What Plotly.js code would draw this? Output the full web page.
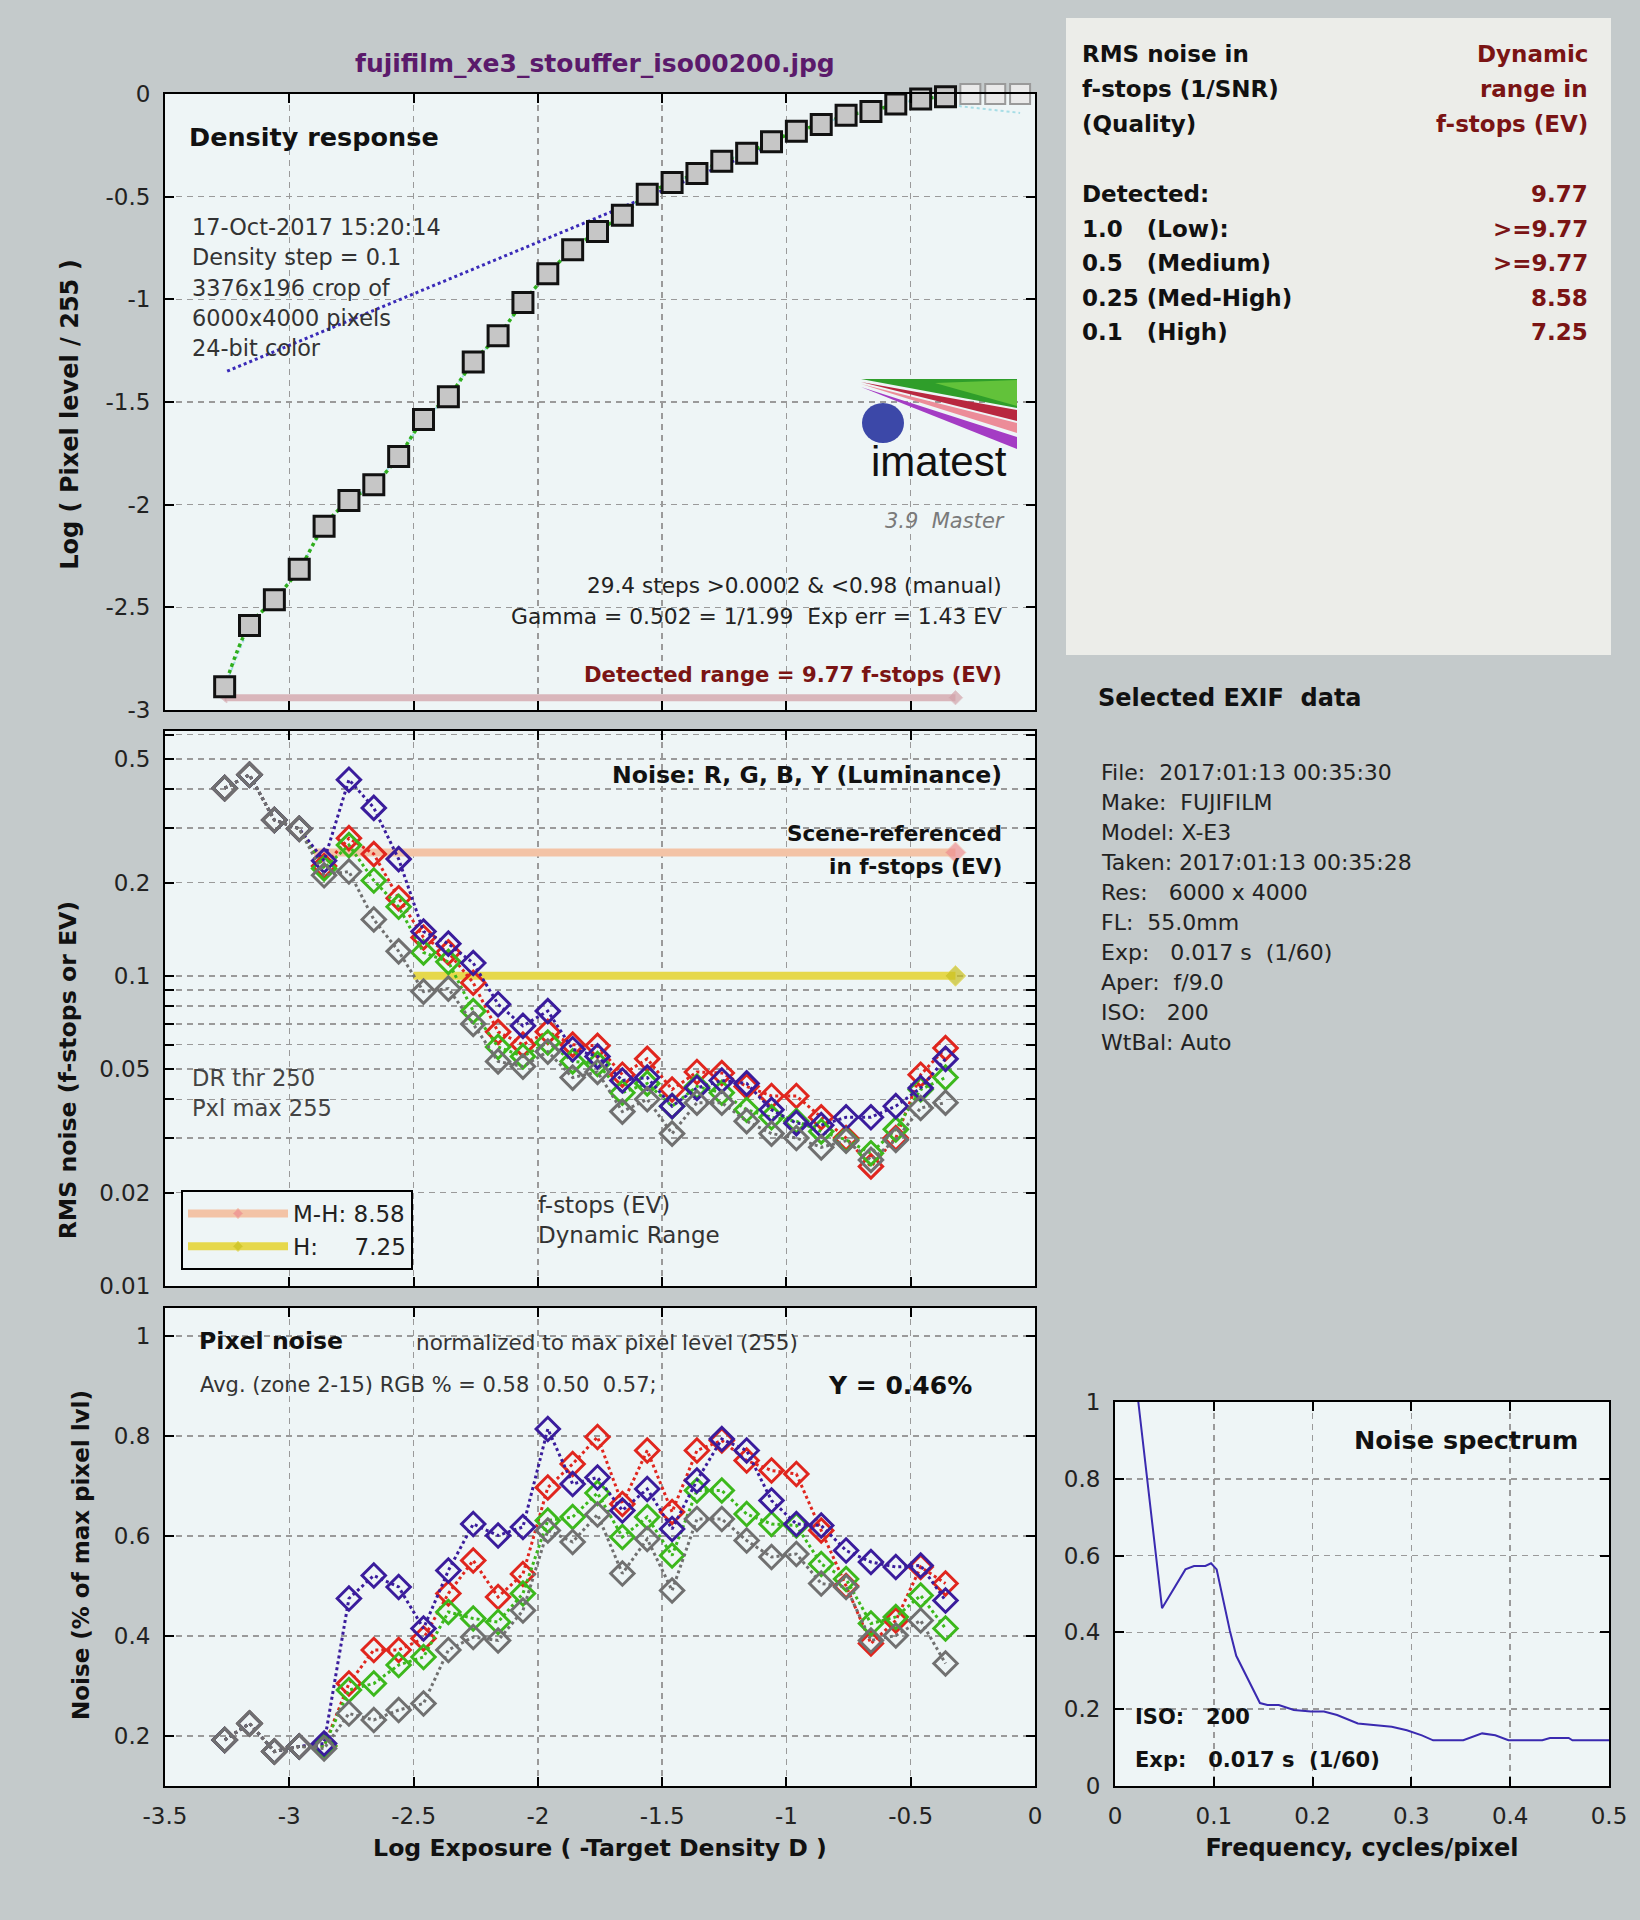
<!DOCTYPE html>
<html><head><meta charset="utf-8">
<script src="https://cdn.plot.ly/plotly-3.0.1.min.js"></script>
<style>html,body{margin:0;padding:0;background:#c4cacb;}#chart{width:1640px;height:1920px;}</style>
</head><body><div id="chart"></div>
<script>
// ---------------- DATA ----------------
// Density response (log exposure vs log pixel level)
const stepX = [-3.26,-3.16,-3.06,-2.96,-2.86,-2.76,-2.66,-2.56,-2.46,-2.36,-2.26,-2.16,-2.06,-1.96,-1.86,-1.76,-1.66,-1.56,-1.46,-1.36,-1.26,-1.16,-1.06,-0.96,-0.86,-0.76,-0.66,-0.56,-0.46,-0.36];
const densityY = [-2.887,-2.588,-2.463,-2.314,-2.105,-1.980,-1.903,-1.765,-1.585,-1.474,-1.305,-1.177,-1.016,-0.875,-0.758,-0.670,-0.590,-0.488,-0.431,-0.387,-0.328,-0.288,-0.232,-0.181,-0.148,-0.104,-0.085,-0.049,-0.024,-0.013];
const clippedX = [-0.26,-0.16,-0.06];
const clippedY = [0,0,0];
const fitTailX = [-0.30,-0.16,-0.06];
const fitTailY = [-0.060,-0.078,-0.092];
const gammaLineX = [-3.25,-1.06];
const gammaLineY = [-1.35,-0.25];
const detectedRangeX = [-3.26,-0.32];
const detectedRangeY = [-2.94,-2.94];

// RMS noise in f-stops (log axis)
const rmsR = [0.403,0.445,0.318,0.298,0.226,0.278,0.247,0.178,0.133,0.119,0.095,0.066,0.060,0.066,0.060,0.0595,0.048,0.054,0.043,0.049,0.0486,0.044,0.041,0.041,0.035,0.030,0.0243,0.030,0.048,0.0585];
const rmsG = [0.403,0.445,0.318,0.298,0.222,0.264,0.203,0.167,0.119,0.111,0.077,0.059,0.055,0.061,0.053,0.052,0.042,0.045,0.038,0.044,0.042,0.037,0.035,0.034,0.0315,0.0296,0.0268,0.032,0.043,0.047];
const rmsB = [0.403,0.445,0.318,0.298,0.235,0.429,0.348,0.238,0.139,0.127,0.110,0.081,0.069,0.077,0.058,0.055,0.046,0.047,0.038,0.0435,0.046,0.045,0.037,0.0335,0.033,0.035,0.035,0.038,0.0435,0.054];
const rmsY = [0.403,0.445,0.318,0.298,0.211,0.217,0.152,0.120,0.089,0.091,0.070,0.053,0.051,0.057,0.047,0.049,0.0365,0.040,0.031,0.039,0.039,0.034,0.031,0.030,0.028,0.0294,0.0255,0.0296,0.0375,0.039];
const mhBarX = [-2.90,-0.32];
const mhBarY = [0.25,0.25];
const hBarX = [-2.50,-0.32];
const hBarY = [0.1,0.1];

// Pixel noise, % of max pixel level
const pixR = [0.192,0.225,0.169,0.179,0.180,0.305,0.372,0.372,0.395,0.485,0.551,0.478,0.524,0.697,0.744,0.798,0.664,0.771,0.648,0.771,0.791,0.751,0.731,0.724,0.611,0.500,0.385,0.431,0.538,0.505];
const pixG = [0.192,0.225,0.169,0.179,0.180,0.292,0.305,0.342,0.358,0.448,0.435,0.428,0.485,0.631,0.638,0.686,0.598,0.638,0.561,0.691,0.691,0.644,0.624,0.621,0.544,0.514,0.425,0.438,0.481,0.415];
const pixB = [0.192,0.225,0.169,0.179,0.185,0.475,0.521,0.498,0.415,0.531,0.624,0.601,0.618,0.814,0.704,0.717,0.651,0.694,0.614,0.711,0.794,0.771,0.671,0.624,0.621,0.571,0.548,0.538,0.541,0.471];
const pixY = [0.192,0.225,0.169,0.179,0.175,0.245,0.232,0.252,0.265,0.372,0.398,0.391,0.451,0.611,0.588,0.643,0.525,0.594,0.491,0.634,0.634,0.591,0.558,0.564,0.505,0.498,0.391,0.401,0.431,0.345];

// Noise spectrum
const specFreq = [0.0236,0.0476,0.0713,0.080,0.0915,0.0972,0.1029,0.1162,0.1227,0.1467,0.1543,0.1658,0.181,0.1982,0.2115,0.2248,0.2458,0.2649,0.2801,0.2954,0.3106,0.322,0.3525,0.3716,0.3849,0.3982,0.4325,0.4402,0.4592,0.463,0.5];
const specVal = [1.0,0.463,0.564,0.573,0.573,0.580,0.564,0.405,0.339,0.216,0.211,0.211,0.198,0.194,0.194,0.185,0.163,0.159,0.154,0.145,0.132,0.119,0.119,0.137,0.132,0.119,0.119,0.125,0.125,0.119,0.119];

// Tick labels
const densTickVals = [0,-0.5,-1,-1.5,-2,-2.5,-3];
const densTickText = ['0','-0.5','-1','-1.5','-2','-2.5','-3'];
const rmsTickVals = [0.01,0.02,0.03,0.04,0.05,0.06,0.07,0.08,0.09,0.1,0.2,0.3,0.4,0.5,0.6];
const rmsTickText = ['0.01','0.02','','','0.05','','','','','0.1','0.2','','','0.5',''];
const pixTickVals = [0.2,0.4,0.6,0.8,1];
const pixTickText = ['0.2','0.4','0.6','0.8','1'];
const expTickVals = [-3.5,-3,-2.5,-2,-1.5,-1,-0.5,0];
const expTickText = ['-3.5','-3','-2.5','-2','-1.5','-1','-0.5','0'];
const freqTickVals = [0,0.1,0.2,0.3,0.4,0.5];
const freqTickText = ['0','0.1','0.2','0.3','0.4','0.5'];
const specTickVals = [0,0.2,0.4,0.6,0.8,1];
const specTickText = ['0','0.2','0.4','0.6','0.8','1'];

// Text blocks
const infoLeft = ['RMS noise in','f-stops (1/SNR)','(Quality)','Detected:','1.0   (Low):','0.5   (Medium)','0.25 (Med-High)','0.1   (High)'];
const infoRight = ['Dynamic','range in','f-stops (EV)','9.77','&gt;=9.77','&gt;=9.77','8.58','7.25'];
const exifLines = ['File:  2017:01:13 00:35:30','Make:  FUJIFILM','Model: X-E3','Taken: 2017:01:13 00:35:28','Res:   6000 x 4000','FL:  55.0mm','Exp:   0.017 s  (1/60)','Aper:  f/9.0','ISO:   200','WtBal: Auto'];
const densInfo = ['17-Oct-2017 15:20:14','Density step = 0.1','3376x196 crop of','6000x4000 pixels','24-bit color'];

// ---------------- LAYOUT HELPERS ----------------
const W = 1640, H = 1920;
const px = v => v / W;
const py = v => 1 - v / H;
const FONT = 'DejaVu Sans';
const NB = '\u00a0';
const ZW = '\u200b';
const cR = '#e0261e', cG = '#3cb81c', cB = '#3a1c9c', cY = '#707070';

const axisCommon = {
  showline: true, linecolor: '#000', linewidth: 2, mirror: 'ticks',
  ticks: 'inside', ticklen: 9, tickwidth: 2, tickcolor: '#000',
  showgrid: true, gridcolor: '#9a9a9a', griddash: '6px,5px', gridwidth: 1.5,
  zeroline: false, tickfont: {family: FONT, size: 23, color: '#222'},
  tickmode: 'array', ticklabelstandoff: 8
};
const mainXDomain = [px(165), px(1035)];
function ax(extra) { return Object.assign({}, axisCommon, extra); }
function ttl(text, standoff, size) { return {text: text, font: {family: FONT, size: size || 23, weight: 'bold', color: '#111'}, standoff: standoff}; }
// trailing padding shifts the rotated title along the axis (as in the reference)
function pad(text, n) { return n > 0 ? text + NB.repeat(n) + ZW : text; }

function noiseTrace(y, color, xa, ya) {
  return {x: stepX, y: y, xaxis: xa, yaxis: ya, mode: 'lines+markers', showlegend: false,
    line: {color: color, dash: 'dot', width: 3},
    marker: {symbol: 'diamond-open', size: 18, color: color, line: {width: 3, color: color}},
    cliponaxis: false, hoverinfo: 'skip'};
}

const traces = [
  // top panel
  {x: gammaLineX, y: gammaLineY, xaxis: 'x', yaxis: 'y', mode: 'lines', showlegend: false,
   line: {color: '#3a2ab8', dash: 'dot', width: 3}},
  {x: stepX.concat(fitTailX), y: densityY.concat(fitTailY), xaxis: 'x', yaxis: 'y', mode: 'lines', showlegend: false,
   line: {color: '#a6dde6', dash: 'dot', width: 2}},
  {x: stepX, y: densityY, xaxis: 'x', yaxis: 'y', mode: 'lines', showlegend: false,
   line: {color: '#2fae1c', dash: 'dot', width: 3.5, shape: 'spline'}},
  {x: detectedRangeX, y: detectedRangeY, xaxis: 'x', yaxis: 'y', mode: 'lines+markers', showlegend: false,
   line: {color: '#d9b6bb', width: 7},
   marker: {symbol: ['triangle-left', 'diamond'], size: [9, 11], color: '#d3a3aa'}},
  {x: clippedX, y: clippedY, xaxis: 'x', yaxis: 'y', mode: 'markers', showlegend: false, cliponaxis: false,
   marker: {symbol: 'square', size: 20, color: '#e9e9e9', line: {width: 2, color: '#9a9a9a'}}},
  {x: stepX, y: densityY, xaxis: 'x', yaxis: 'y', mode: 'markers', showlegend: false, cliponaxis: false,
   marker: {symbol: 'square', size: 20, color: '#c6c6c6', line: {width: 3, color: '#111'}}},
  // middle panel bars (legend)
  {x: mhBarX, y: mhBarY, xaxis: 'x2', yaxis: 'y2', mode: 'lines+markers', name: 'M-H: 8.58',
   line: {color: '#f3c3a6', width: 8}, marker: {symbol: 'diamond', size: [0, 16], color: '#ee8e90'}},
  {x: hBarX, y: hBarY, xaxis: 'x2', yaxis: 'y2', mode: 'lines+markers', name: 'H:' + NB + NB + NB + NB + NB + '7.25',
   line: {color: '#e6d84c', width: 8}, marker: {symbol: 'diamond', size: [0, 16], color: '#c9c020'}},
  noiseTrace(rmsR, cR, 'x2', 'y2'),
  noiseTrace(rmsG, cG, 'x2', 'y2'),
  noiseTrace(rmsB, cB, 'x2', 'y2'),
  noiseTrace(rmsY, cY, 'x2', 'y2'),
  // bottom panel
  noiseTrace(pixR, cR, 'x3', 'y3'),
  noiseTrace(pixG, cG, 'x3', 'y3'),
  noiseTrace(pixB, cB, 'x3', 'y3'),
  noiseTrace(pixY, cY, 'x3', 'y3'),
  // spectrum
  {x: specFreq, y: specVal, xaxis: 'x4', yaxis: 'y4', mode: 'lines', showlegend: false,
   line: {color: '#3a2ab0', width: 2}}
];

const annotations = [];
function ann(text, x, y, xanchor, opts) {
  const o = Object.assign({size: 21, color: '#222', weight: 'normal', style: 'normal', family: FONT}, opts || {});
  annotations.push({text: text, xref: 'paper', yref: 'paper', x: px(x), y: py(y), xanchor: xanchor, yanchor: 'middle',
    showarrow: false, font: {family: o.family, size: o.size, color: o.color, weight: o.weight, style: o.style}});
}
// figure title
ann('fujifilm_xe3_stouffer_iso00200.jpg', 595, 64, 'center', {size: 25, weight: 'bold', color: '#5b1a6b'});
// top panel
ann('Density response', 187, 137, 'left', {size: 25.5, weight: 'bold', color: '#111'});
densInfo.forEach((t, i) => ann(t, 190, 227 + i * 30.3, 'left', {size: 22.4, color: '#333'}));
ann('imatest', 939, 462, 'center', {size: 42, color: '#111', family: 'Liberation Sans Narrow, Liberation Sans'});
ann('3.9  Master', 1007, 521, 'right', {size: 21, color: '#7a7a7a', style: 'italic'});
ann('29.4 steps &gt;0.0002 &amp; &lt;0.98 (manual)', 1004, 585, 'right', {size: 21.6});
ann('Gamma = 0.502 = 1/1.99  Exp err = 1.43 EV', 1004, 616, 'right', {size: 21.8});
ann('Detected range = 9.77 f-stops (EV)', 1004, 674, 'right', {size: 21.2, weight: 'bold', color: '#7a1414'});
// middle panel
ann('Noise: R, G, B, Y (Luminance)', 1004, 775, 'right', {size: 23.6, weight: 'bold', color: '#111'});
ann('Scene-referenced', 1004, 834, 'right', {size: 21.6, weight: 'bold', color: '#111'});
ann('in f-stops (EV)', 1004, 866, 'right', {size: 21.6, weight: 'bold', color: '#111'});
ann('DR thr 250', 190, 1078, 'left', {size: 22.6, color: '#444'});
ann('Pxl max 255', 190, 1108, 'left', {size: 22.6, color: '#444'});
ann('f-stops (EV)', 536, 1205, 'left', {size: 23, color: '#333'});
ann('Dynamic Range', 536, 1235, 'left', {size: 23, color: '#333'});
// bottom panel
ann('Pixel noise', 197, 1341, 'left', {size: 23.6, weight: 'bold', color: '#111'});
ann('normalized to max pixel level (255)', 414, 1342, 'left', {size: 21.5, color: '#333'});
ann('Avg. (zone 2-15) RGB % = 0.58  0.50  0.57;', 198, 1385, 'left', {size: 21, color: '#333'});
ann('Y = 0.46%', 974, 1385, 'right', {size: 25, weight: 'bold', color: '#111'});
// spectrum
ann('Noise spectrum', 1580, 1440, 'right', {size: 25.5, weight: 'bold', color: '#111'});
ann('ISO:   200', 1133, 1717, 'left', {size: 21, weight: 'bold', color: '#111'});
ann('Exp:   0.017 s  (1/60)', 1133, 1760, 'left', {size: 21, weight: 'bold', color: '#111'});
// info box
const infoYs = [54, 89, 124, 194, 229, 263, 298, 332];
infoLeft.forEach((t, i) => ann(t, 1080, infoYs[i], 'left', {size: 23, weight: 'bold', color: '#111'}));
infoRight.forEach((t, i) => ann(t, 1590, infoYs[i], 'right', {size: 23, weight: 'bold', color: '#7a1414'}));
// EXIF
ann('Selected EXIF  data', 1096, 698, 'left', {size: 24, weight: 'bold', color: '#111'});
exifLines.forEach((t, i) => ann(t, 1099, 772 + i * 30.1, 'left', {size: 22, color: '#222'}));

// shapes: info box + imatest logo
function poly(pts) { return 'M' + pts.map(p => px(p[0]) + ',' + py(p[1])).join(' L') + ' Z'; }
const shapes = [
  {type: 'rect', xref: 'paper', yref: 'paper', x0: px(1066), x1: px(1611), y0: py(655), y1: py(18),
   fillcolor: '#ecede9', line: {width: 0}, layer: 'below'},
  {type: 'path', xref: 'paper', yref: 'paper', path: poly([[861,379],[1017,379],[1017,408]]), fillcolor: '#2f9e2a', line: {width: 0}},
  {type: 'path', xref: 'paper', yref: 'paper', path: poly([[935,383],[1017,380],[1017,406]]), fillcolor: '#62c23a', line: {width: 0}},
  {type: 'path', xref: 'paper', yref: 'paper', path: poly([[861,382],[1017,410],[1017,421]]), fillcolor: '#b8283f', line: {width: 0}},
  {type: 'path', xref: 'paper', yref: 'paper', path: poly([[861,384],[1017,423],[1017,433]]), fillcolor: '#ec8c98', line: {width: 0}},
  {type: 'path', xref: 'paper', yref: 'paper', path: poly([[861,387],[1017,437],[1017,449]]), fillcolor: '#a43cc4', line: {width: 0}},
  {type: 'circle', xref: 'paper', yref: 'paper', x0: px(862), x1: px(904), y0: py(443), y1: py(403), fillcolor: '#3c48a8', line: {width: 0}}
];

const layout = {
  width: W, height: H, margin: {l: 0, r: 0, t: 0, b: 0},
  paper_bgcolor: '#c4cacb', plot_bgcolor: '#eef5f6',
  font: {family: FONT, size: 20, color: '#222'},
  showlegend: true,
  legend: {x: px(181), y: py(1190), xanchor: 'left', yanchor: 'top', bgcolor: '#eef5f6',
    bordercolor: '#000', borderwidth: 2, font: {family: FONT, size: 23, color: '#222'},
    itemwidth: 100, tracegroupgap: 6},
  xaxis: ax({domain: mainXDomain, anchor: 'y', range: [-3.5, 0], tickvals: expTickVals, ticktext: expTickText, showticklabels: false}),
  yaxis: ax({domain: [py(710), py(94)], anchor: 'x', range: [-3, 0], tickvals: densTickVals, ticktext: densTickText,
    title: ttl(pad('Log ( Pixel level / 255 )', 3), 20, 24)}),
  xaxis2: ax({domain: mainXDomain, anchor: 'y2', range: [-3.5, 0], tickvals: expTickVals, ticktext: expTickText, showticklabels: false}),
  yaxis2: ax({domain: [py(1286), py(731)], anchor: 'x2', type: 'log', range: [-2, Math.log10(0.616)],
    tickvals: rmsTickVals, ticktext: rmsTickText, title: ttl(pad('RMS noise (f-stops or EV)', 15), 16, 23.6)}),
  xaxis3: ax({domain: mainXDomain, anchor: 'y3', range: [-3.5, 0], tickvals: expTickVals, ticktext: expTickText,
    title: ttl('Log Exposure ( -Target Density D )', 12, 23.6)}),
  yaxis3: ax({domain: [py(1786), py(1308)], anchor: 'x3', range: [0.1, 1.056], tickvals: pixTickVals, ticktext: pixTickText,
    title: ttl(pad('Noise (% of max pixel lvl)', 2), 18, 23)}),
  xaxis4: ax({domain: [px(1115), px(1609)], anchor: 'y4', range: [0, 0.5], tickvals: freqTickVals, ticktext: freqTickText,
    title: ttl('Frequency, cycles/pixel', 12, 24)}),
  yaxis4: ax({domain: [py(1786), py(1402)], anchor: 'x4', range: [0, 1], tickvals: specTickVals, ticktext: specTickText}),
  annotations: annotations,
  shapes: shapes
};

Plotly.newPlot('chart', traces, layout, {staticPlot: true, displayModeBar: false});
</script>
</body></html>
